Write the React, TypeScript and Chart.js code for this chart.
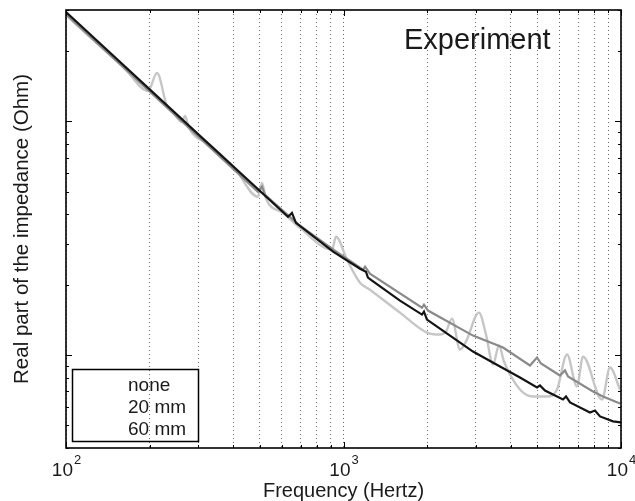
import React, { useEffect, useRef } from "react";
import { Chart, registerables } from "chart.js";

Chart.register(...registerables);

// ---- Data ----
const noneFreq = [100, 132.6, 163.2, 197.5, 212.8, 231.2, 241, 261.8, 268.5, 277.5, 330.3, 406.4, 491.8, 508.5, 525.6, 605.3, 697, 909, 939.7, 1029.5, 1147, 1245, 1598, 1999, 2227, 2341, 2460, 2629, 2763, 3078, 3262, 3457, 3635, 3787, 4325, 4817, 5412, 5880, 6390, 6940, 7295, 8543, 9129, 9917];
const noneVals = [28.5, 21.02, 16.77, 13.5, 16.12, 11.65, 11.09, 9.95, 10.56, 9.38, 7.94, 6.27, 4.757, 5.46, 4.665, 4.064, 3.506, 2.824, 3.209, 2.559, 2.04, 1.905, 1.519, 1.248, 1.224, 1.26, 1.432, 1.056, 1.142, 1.519, 1.224, 0.911, 1.098, 0.938, 0.712, 0.665, 0.665, 0.712, 1.005, 0.733, 0.985, 0.645, 0.884, 0.712];

const mm20Freq = [100, 197.5, 491.8, 508.5, 521.3, 697, 909, 1176, 1196, 1245, 1918, 1950, 2016, 2929, 3756, 4699, 4981, 5148, 6026, 6284, 6442, 7926, 8611, 9917];
const mm20Vals = [28.8, 13.63, 4.996, 5.25, 4.85, 3.577, 2.852, 2.32, 2.389, 2.23, 1.596, 1.643, 1.55, 1.211, 1.077, 0.902, 0.976, 0.92, 0.817, 0.859, 0.809, 0.698, 0.665, 0.62];

const mm60Freq = [100, 304, 631, 652, 674, 917, 1147, 1205, 1225, 1267, 1598, 1918, 1950, 1999, 2420, 2929, 3664, 4325, 4981, 5106, 5322, 6180, 6337, 6551, 7731, 8057, 8402, 9358, 10000];
const mm60Vals = [29.38, 8.67, 3.91, 4.06, 3.68, 2.77, 2.343, 2.275, 2.144, 2.082, 1.71, 1.49, 1.534, 1.418, 1.211, 1.035, 0.893, 0.801, 0.726, 0.741, 0.705, 0.645, 0.665, 0.627, 0.568, 0.579, 0.546, 0.52, 0.515];

const seriesLabels = ["none", "20 mm", "60 mm"];
const xMajorTicks = [100, 1000, 10000];
const xMinorTicks = [200, 300, 400, 500, 600, 700, 800, 900, 2000, 3000, 4000, 5000, 6000, 7000, 8000, 9000];
const xTickBase = "10";
const xTickExponents = ["2", "3", "4"];
const yMajorTicks = [1, 10];
const yMinorTicks = [0.4, 0.5, 0.6, 0.7, 0.8, 0.9, 2, 3, 4, 5, 6, 7, 8, 9, 20, 30];
const xTitle = "Frequency (Hertz)";
const yTitle = "Real part of the impedance (Ohm)";
const annotationText = "Experiment";

const FONT = '"Liberation Sans", Arial, Helvetica, sans-serif';

function toPoints(fs: number[], vs: number[]) {
  return fs.map((f, i) => ({ x: f, y: vs[i] }));
}

const decorPlugin = {
  id: "matlabDecor",
  afterDraw(chart: any) {
    const ctx = chart.ctx as CanvasRenderingContext2D;
    const { left, right, top, bottom } = chart.chartArea;
    const xs = chart.scales.x;
    const ys = chart.scales.y;
    ctx.save();
    ctx.strokeStyle = "#000";
    ctx.lineWidth = 1;
    const tick = (x1: number, y1: number, x2: number, y2: number) => {
      ctx.beginPath();
      ctx.moveTo(x1, y1);
      ctx.lineTo(x2, y2);
      ctx.stroke();
    };
    xMajorTicks.forEach((v) => {
      const p = Math.round(xs.getPixelForValue(v)) + 0.5;
      tick(p, bottom, p, bottom - 6);
      tick(p, top, p, top + 6);
    });
    xMinorTicks.forEach((v) => {
      const p = Math.round(xs.getPixelForValue(v)) + 0.5;
      tick(p, bottom, p, bottom - 3);
      tick(p, top, p, top + 3);
    });
    yMajorTicks.forEach((v) => {
      const p = Math.round(ys.getPixelForValue(v)) + 0.5;
      tick(left, p, left + 6, p);
      tick(right, p, right - 6, p);
    });
    yMinorTicks.forEach((v) => {
      const p = Math.round(ys.getPixelForValue(v)) + 0.5;
      tick(left, p, left + 3, p);
      tick(right, p, right - 3, p);
    });
    // axes box
    ctx.lineWidth = 1.6;
    ctx.strokeRect(left, top, right - left, bottom - top);

    // x tick labels 10^n
    ctx.fillStyle = "#1a1a1a";
    ctx.textBaseline = "alphabetic";
    xMajorTicks.forEach((v, i) => {
      const p = xs.getPixelForValue(v);
      ctx.font = `19px ${FONT}`;
      const wb = ctx.measureText(xTickBase).width;
      ctx.font = `13px ${FONT}`;
      const we = ctx.measureText(xTickExponents[i]).width;
      const start = p - (wb + we) / 2;
      ctx.font = `19px ${FONT}`;
      ctx.textAlign = "left";
      ctx.fillText(xTickBase, start, 476);
      ctx.font = `13px ${FONT}`;
      ctx.fillText(xTickExponents[i], start + wb + 1, 464);
    });

    // axis titles
    ctx.font = `20px ${FONT}`;
    ctx.textAlign = "center";
    ctx.fillText(xTitle, (left + right) / 2, 497);
    ctx.save();
    ctx.translate(28, (top + bottom) / 2);
    ctx.rotate(-Math.PI / 2);
    ctx.font = `20.5px ${FONT}`;
    ctx.fillText(yTitle, 0, 0);
    ctx.restore();

    // annotation
    ctx.font = `29px ${FONT}`;
    ctx.textAlign = "left";
    ctx.fillText(annotationText, 404, 49);

    // legend box (transparent, text only)
    ctx.lineWidth = 1.5;
    ctx.strokeStyle = "#000";
    ctx.strokeRect(72.5, 369.5, 126, 72);
    ctx.font = `19px ${FONT}`;
    const baselines = [391, 413, 435];
    seriesLabels.forEach((t, i) => ctx.fillText(t, 128, baselines[i]));
    ctx.restore();
  },
};

export default function App() {
  const ref = useRef<HTMLCanvasElement | null>(null);
  useEffect(() => {
    if (!ref.current) return;
    const chart = new Chart(ref.current, {
      type: "line",
      data: {
        datasets: [
          {
            label: seriesLabels[0],
            data: toPoints(noneFreq, noneVals),
            borderColor: "#c6c6c6",
            borderWidth: 2.4,
            pointRadius: 0,
            cubicInterpolationMode: "monotone",
            order: 2,
          },
          {
            label: seriesLabels[1],
            data: toPoints(mm20Freq, mm20Vals),
            borderColor: "#8a8a8a",
            borderWidth: 2.2,
            pointRadius: 0,
            tension: 0,
            order: 1,
          },
          {
            label: seriesLabels[2],
            data: toPoints(mm60Freq, mm60Vals),
            borderColor: "#141414",
            borderWidth: 2.2,
            pointRadius: 0,
            tension: 0,
            order: 0,
          },
        ],
      },
      options: {
        animation: false,
        responsive: false,
        maintainAspectRatio: false,
        parsing: false as any,
        layout: { padding: { left: 66, right: 14, top: 10, bottom: 53 } },
        plugins: { legend: { display: false }, tooltip: { enabled: false } },
        scales: {
          x: {
            type: "logarithmic",
            min: 100,
            max: 10000,
            afterBuildTicks: (s: any) => {
              s.ticks = [...xMajorTicks, ...xMinorTicks]
                .sort((a, b) => a - b)
                .map((v) => ({ value: v }));
            },
            afterFit: (s: any) => {
              s.height = 0;
            },
            ticks: { display: false, autoSkip: false },
            grid: { display: true, drawTicks: false, color: "rgba(60,60,60,0.75)", lineWidth: 1 },
            border: { display: false, dash: [1, 3] },
          },
          y: {
            type: "logarithmic",
            min: 0.4,
            max: 30,
            afterFit: (s: any) => {
              s.width = 0;
            },
            ticks: { display: false },
            grid: { display: false, drawTicks: false },
            border: { display: false },
          },
        },
      },
      plugins: [decorPlugin],
    } as any);
    return () => chart.destroy();
  }, []);
  return (
    <div style={{ position: "absolute", left: 0, top: 0, width: 635, height: 501, background: "#fff" }}>
      <canvas ref={ref} width={635} height={501} style={{ display: "block" }} />
    </div>
  );
}
